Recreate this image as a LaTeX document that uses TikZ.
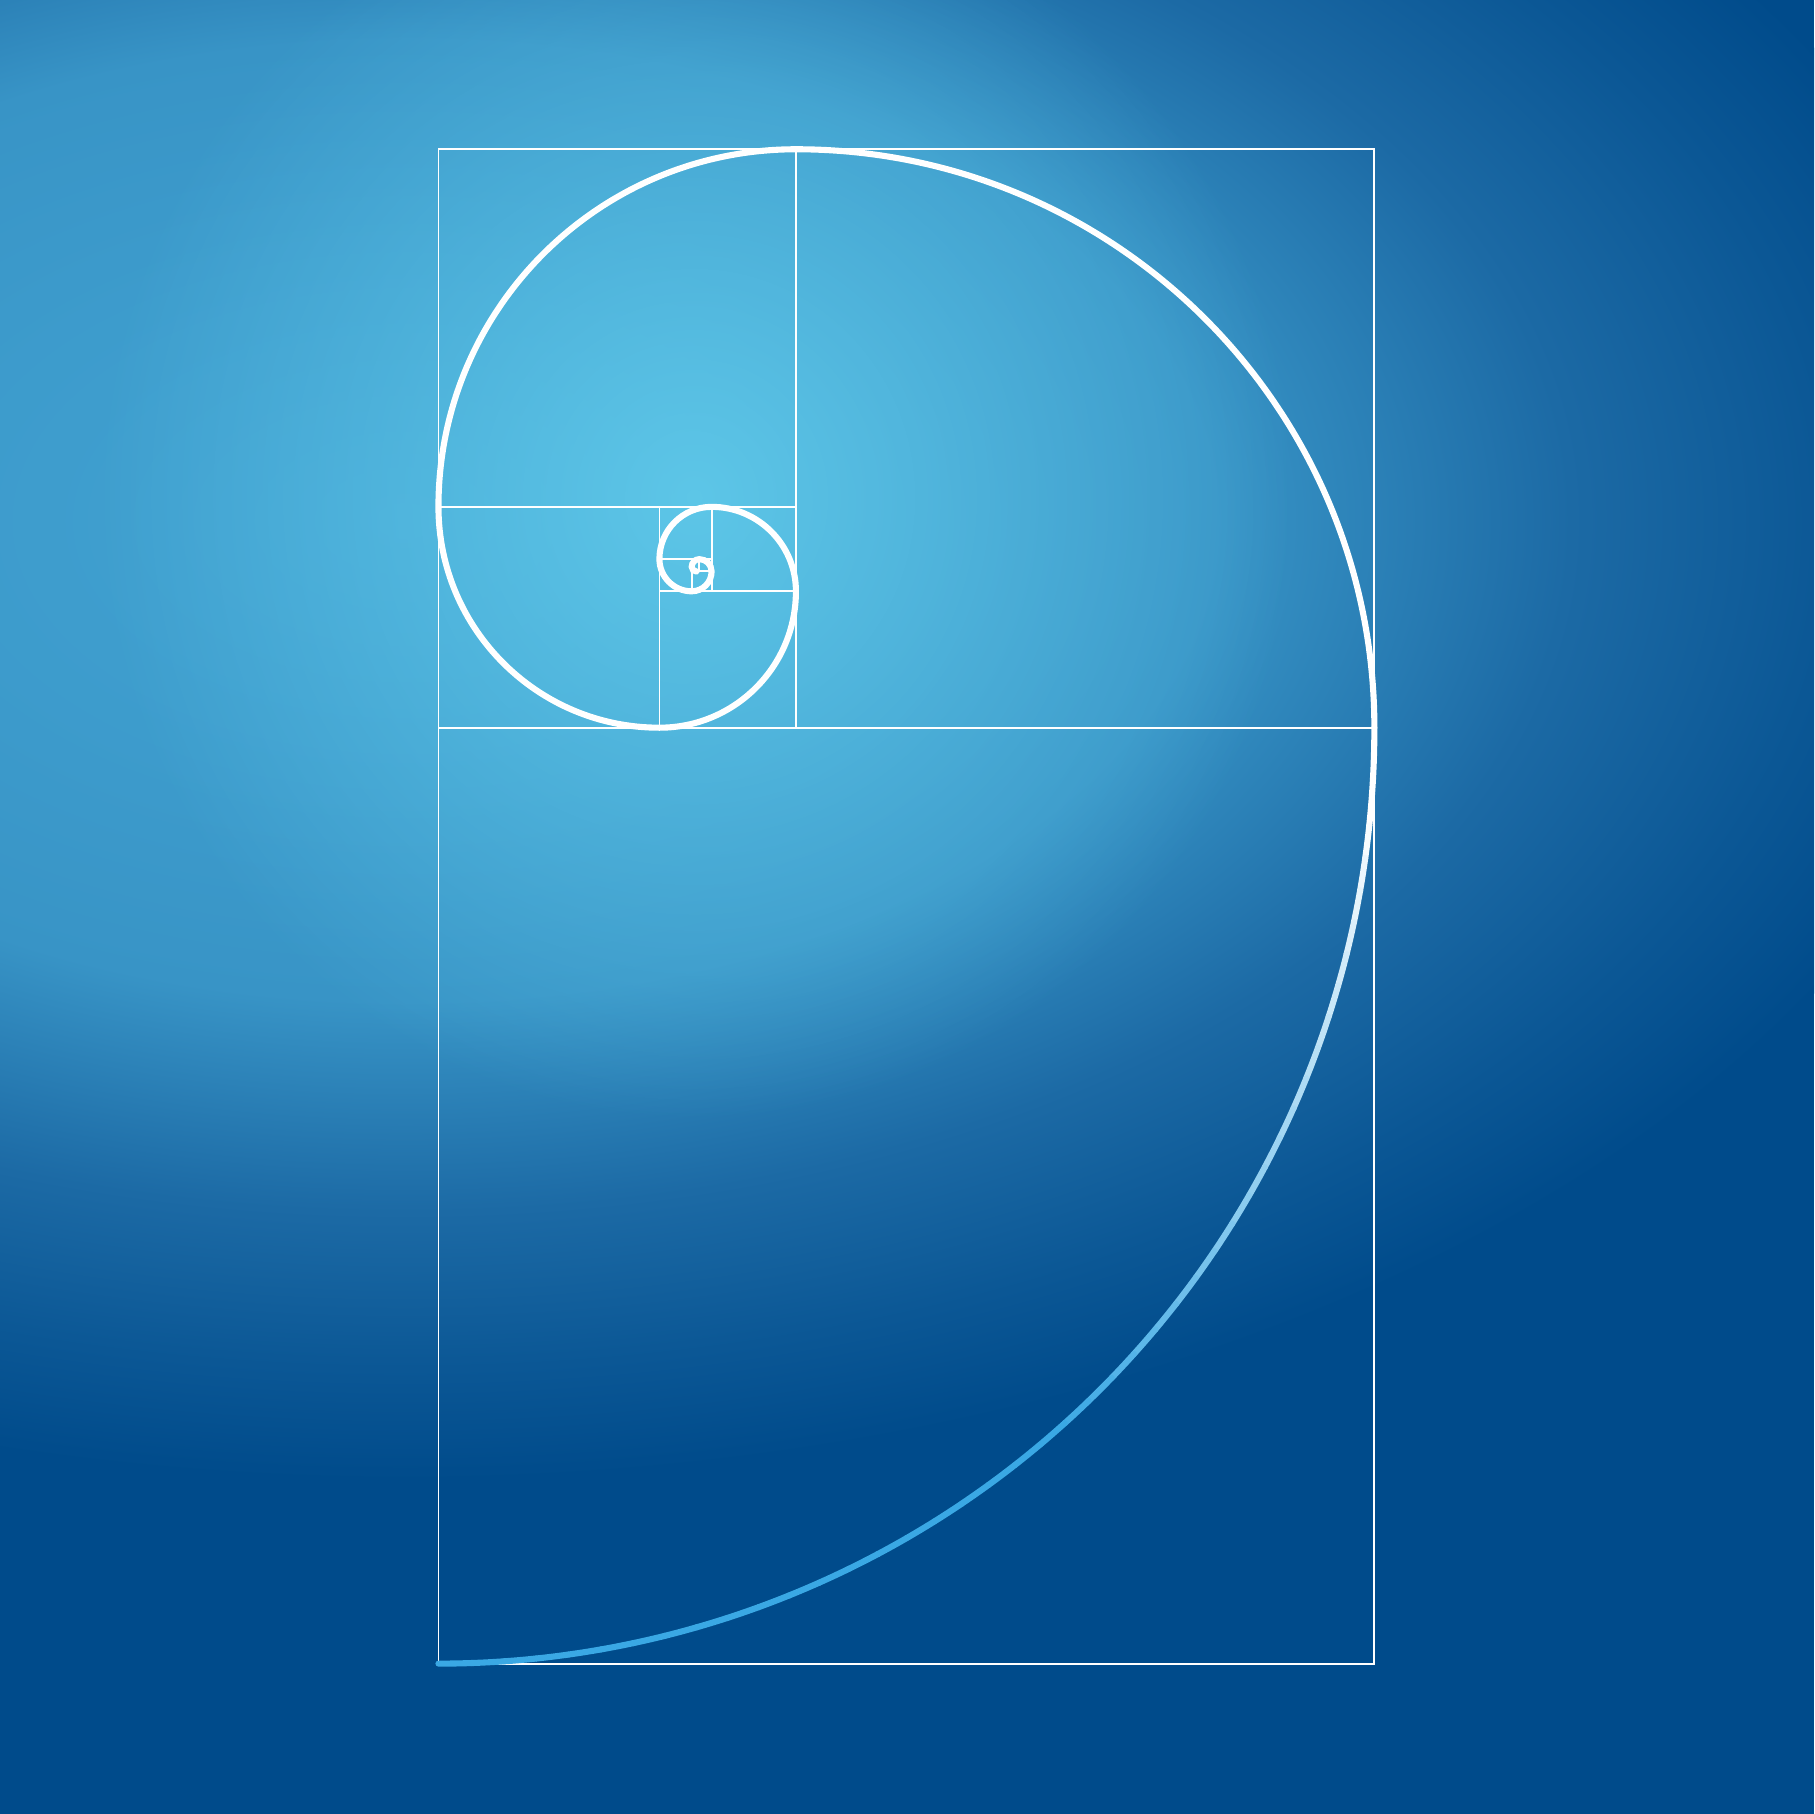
\documentclass[tikz,border=0pt]{standalone}
\usetikzlibrary{fadings}
\definecolor{deepsea}{RGB}{0,75,139}
\definecolor{midsea}{RGB}{28,106,165}
\definecolor{shallow}{RGB}{56,148,198}
\definecolor{lagoon}{RGB}{66,163,210}
\definecolor{glow}{RGB}{96,202,234}
\definecolor{spiralblue}{RGB}{58,168,228}
\pgfdeclareradialshading{seashade}{\pgfpointorigin}{color(0bp)=(lagoon); color(7bp)=(shallow!50!lagoon); color(12.5bp)=(shallow); color(18bp)=(midsea); color(22bp)=(deepsea!60!midsea); color(25bp)=(deepsea); color(50bp)=(deepsea)}
\pgfdeclareradialshading{glowmask}{\pgfpointorigin}{color(0bp)=(white!92!black); color(10bp)=(white!55!black); color(25bp)=(black); color(50bp)=(black)}
\pgfdeclarefading{glowfade}{\pgfuseshading{glowmask}}
\tikzset{
  grid/.style={draw=white, line width=0.45pt},
  spiral/.style={draw=white, line width=1.5pt, line cap=round},
}
\begin{document}
\begin{tikzpicture}[x=0.01cm, y=-0.01cm]
  \useasboundingbox (0,0) rectangle (1568,1568);
  \begin{scope}
    \clip (0,0) rectangle (1568,1568);
    \fill[deepsea] (0,0) rectangle (1568,1568);
    \shade[shading=seashade] (350,450) ellipse [x radius=1400, y radius=830];
    \fill[glow, path fading=glowfade, fit fading=true] (600,430) ellipse [x radius=520, y radius=540];
  \end{scope}
  % golden rectangles
  \draw[grid] (379,129) rectangle (1188,1438);
  \draw[grid] (379,629) -- (1188,629);
  \draw[grid] (688,129) -- (688,629);
  \draw[grid] (379,438) -- (688,438);
  \draw[grid] (570,438) -- (570,629);
  \draw[grid] (570,511) -- (688,511);
  \draw[grid] (615.1,438) -- (615.1,511);
  \draw[grid] (570,483.1) -- (615.1,483.1);
  \draw[grid] (597.9,483.1) -- (597.9,511);
  \draw[grid] (597.9,493.8) -- (615.1,493.8);
  \draw[grid] (604.5,483.1) -- (604.5,493.8);
  % spiral, outer quarter fading to blue
  \foreach \a in {0,2,...,88} {
    \pgfmathtruncatemacro\mix{min(100,max(0,(\a-4)*2.3))}
    \draw[spiral, draw=spiralblue!\mix!white] (379,629) ++(\a:809) arc[start angle=\a, delta angle=2, radius=809];
  }
  \draw[spiral] (1188,629) \foreach \r [count=\i] in {500,309,191,118,72.9,45.1,27.9,17.2,10.6,6.6,4.1} {
    arc[start angle={-90*(\i-1)}, delta angle=-90, radius=\r] };
\end{tikzpicture}
\end{document}
